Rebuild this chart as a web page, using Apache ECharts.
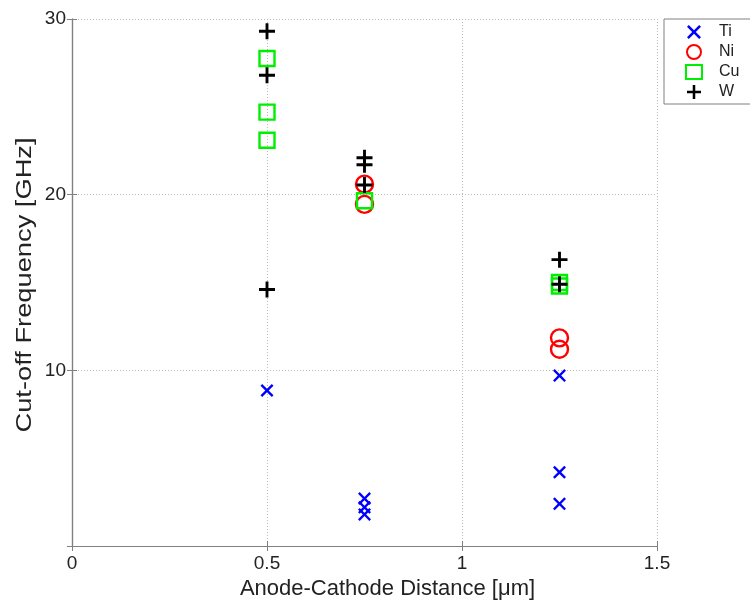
<!DOCTYPE html>
<html>
<head>
<meta charset="utf-8">
<script src="https://cdn.jsdelivr.net/npm/echarts@6/dist/echarts.min.js"></script>
<style>
  html, body { margin: 0; padding: 0; background: #fff; }
  #chart { width: 750px; height: 603px; }
</style>
</head>
<body>
<div id="chart"></div>
<script>
// data: [distance um, cut-off GHz]
var tiData = [[0.5, 8.85], [0.75, 2.7], [0.75, 2.2], [0.75, 1.8], [1.25, 9.7], [1.25, 4.2], [1.25, 2.4]];
var niData = [[0.75, 20.6], [0.75, 19.45], [1.25, 11.85], [1.25, 11.2]];
var cuData = [[0.5, 27.75], [0.5, 24.7], [0.5, 23.1], [0.75, 19.65], [1.25, 15.0], [1.25, 14.8]];
var wData = [[0.5, 29.3], [0.5, 26.8], [0.5, 14.6], [0.75, 22.1], [0.75, 21.7], [0.75, 20.55], [1.25, 16.3], [1.25, 14.9]];
var seriesNames = ['Ti', 'Ni', 'Cu', 'W'];

var FONT = 'Liberation Sans, Arial, sans-serif';
var plusPath = 'path://M4.1,0H5.9V4.1H10V5.9H5.9V10H4.1V5.9H0V4.1H4.1Z';
var crossPath = 'path://M1.3,0L5,3.7L8.7,0L10,1.3L6.3,5L10,8.7L8.7,10L5,6.3L1.3,10L0,8.7L3.7,5L0,1.3Z';

var myChart = echarts.init(document.getElementById('chart'));

// 坐标轴公共样式
var gridLine = { show: true, lineStyle: { color: '#b8b8b8', type: [1, 2], width: 1 } };
var frameLine = { show: true, lineStyle: { color: '#808080', width: 1.2 } };
var inTick = { show: true, inside: true, length: 5, lineStyle: { color: '#808080' } };

myChart.setOption({
  backgroundColor: '#fff',
  animation: false,
  grid: { left: 72, top: 19, right: 93, bottom: 57, outerBoundsMode: 'none' },
  legend: {
    orient: 'vertical',
    left: 680,
    top: 19,
    itemGap: 4,
    itemWidth: 16,
    itemHeight: 14,
    data: seriesNames,
    textStyle: { fontFamily: FONT, fontSize: 16, color: '#222', padding: [0, 0, 0, 12] }
  },
  graphic: [{
    type: 'rect',
    shape: { x: 664, y: 19, width: 100, height: 85 },
    style: { fill: 'none', stroke: '#808080', lineWidth: 1 }
  }, {
    // y轴名称，原图纵向拉伸过
    type: 'text',
    x: 25, y: 285,
    rotation: Math.PI / 2,
    scaleX: 1.24,
    style: {
      text: 'Cut-off Frequency [GHz]',
      fontFamily: FONT, fontSize: 22, fill: '#222',
      align: 'center', verticalAlign: 'middle'
    }
  }],
  xAxis: [{
    type: 'value',
    min: 0, max: 1.5, interval: 0.5,
    name: 'Anode-Cathode Distance [\u03bcm]',
    nameLocation: 'middle',
    nameGap: 30,
    nameTextStyle: { fontFamily: FONT, fontSize: 22, color: '#222', padding: [0, 0, 0, 46] },
    axisLine: frameLine,
    axisTick: inTick,
    splitLine: gridLine,
    axisLabel: { fontFamily: FONT, fontSize: 19, color: '#222', margin: 8 }
  }, {
    type: 'value', position: 'top',
    min: 0, max: 1.5, interval: 0.5,
    axisLine: frameLine, axisTick: inTick,
    splitLine: { show: false }, axisLabel: { show: false }
  }],
  yAxis: [{
    type: 'value',
    min: 0, max: 30, interval: 10,
    axisLine: frameLine,
    axisTick: inTick,
    splitLine: gridLine,
    axisLabel: { fontFamily: FONT, fontSize: 19, color: '#222', margin: 6, showMinLabel: false }
  }, {
    type: 'value', position: 'right',
    min: 0, max: 30, interval: 10,
    axisLine: frameLine, axisTick: inTick,
    splitLine: { show: false }, axisLabel: { show: false }
  }],
  series: [
    {
      name: 'Ti', type: 'scatter', data: tiData,
      symbol: crossPath, symbolSize: 13,
      itemStyle: { color: '#0000ff', opacity: 1 }
    },
    {
      name: 'Ni', type: 'scatter', data: niData,
      symbol: 'circle', symbolSize: 17,
      itemStyle: { color: 'rgba(255,255,255,0)', borderColor: '#ff0000', borderWidth: 2.4, opacity: 1 }
    },
    {
      name: 'Cu', type: 'scatter', data: cuData,
      symbol: 'rect', symbolSize: 15,
      itemStyle: { color: 'rgba(255,255,255,0)', borderColor: '#00ee00', borderWidth: 2.4, opacity: 1 }
    },
    {
      name: 'W', type: 'scatter', data: wData,
      symbol: plusPath, symbolSize: 16,
      itemStyle: { color: '#000', opacity: 1 }
    }
  ]
});
</script>
</body>
</html>
